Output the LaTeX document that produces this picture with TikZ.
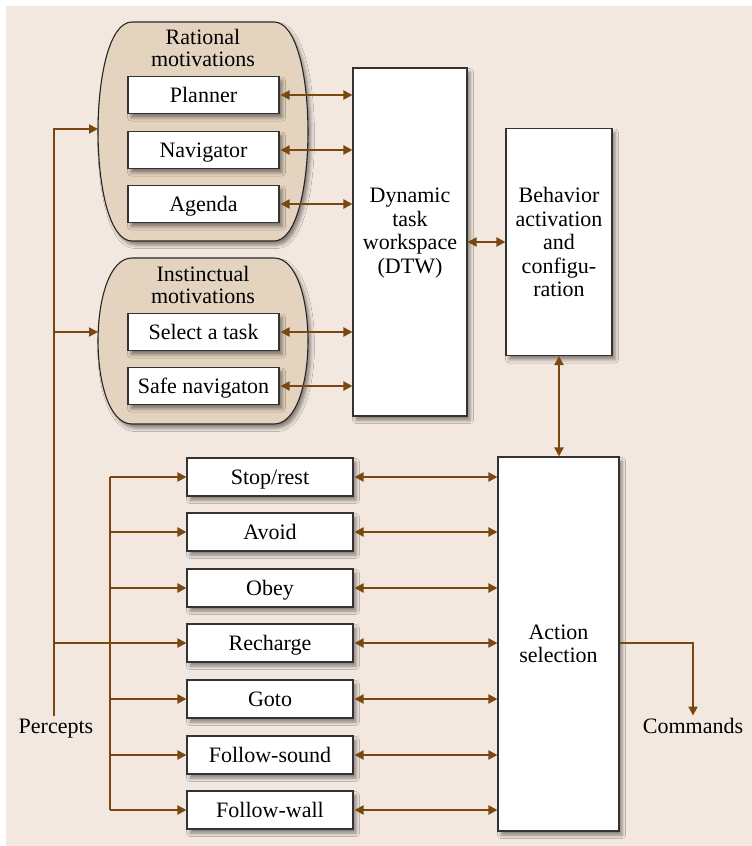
\documentclass[tikz,border=0pt]{standalone}
\usepackage{fontspec}
\setmainfont{Liberation Serif}
\usetikzlibrary{arrows.meta,shadows,shadows.blur}

\definecolor{bgcol}{HTML}{F3E8DF}
\definecolor{blobcol}{HTML}{E4D3BF}
\definecolor{arrcol}{HTML}{7A4710}

\begin{document}
\begin{tikzpicture}[x=1pt,y=-1pt,
  font=\fontsize{22}{23.5}\selectfont,
  shad/.style={blur shadow={shadow xshift=3pt, shadow yshift=-4pt, shadow blur radius=3.5pt, shadow opacity=45}},
  box/.style={draw=black!80, line width=1.1pt, fill=white, inner sep=0pt, align=center, shad},
  mbox/.style={box, minimum width=151pt, minimum height=37pt, text height=16pt, text depth=2pt},
  bbox/.style={box, minimum width=166pt, minimum height=38pt, text height=16pt, text depth=2pt},
  blobsty/.style={draw=black!85, line width=1.1pt, fill=blobcol, shad},
  txt/.style={align=center, inner sep=2pt},
  ln/.style={draw=arrcol, line width=2pt},
  conn/.style={ln, -{Triangle[length=9pt,width=9pt]}},
  dbl/.style={ln, {Triangle[length=9pt,width=9pt]}-{Triangle[length=9pt,width=9pt]}}
]
\useasboundingbox (0,0) rectangle (752,846);
\fill[bgcol] (6,6) rectangle (752,846);

% rational motivations container
\path[blobsty] (132,22) -- (274,22)
  .. controls (319.3,22) and (319.3,241) .. (274,241) -- (132,241)
  .. controls (86.7,241) and (86.7,22) .. (132,22) -- cycle;
\node[txt] (rattitle) at (203,48) {Rational\\[-1.5pt]motivations};

% instinctual motivations container
\path[blobsty] (132,258) -- (274,258)
  .. controls (319.3,258) and (319.3,424) .. (274,424) -- (132,424)
  .. controls (86.7,424) and (86.7,258) .. (132,258) -- cycle;
\node[txt] (insttitle) at (203,285) {Instinctual\\[-1.5pt]motivations};

\node[mbox] (planner) at (203.5,95) {Planner};
\node[mbox] (navigator) at (203.5,150) {Navigator};
\node[mbox] (agenda) at (203.5,204) {Agenda};
\node[mbox] (select) at (203.5,332) {Select a task};
\node[mbox] (safe) at (203.5,386) {Safe navigaton};

\node[box, minimum width=114pt, minimum height=348pt] (dtw) at (410,242) {};
\node[txt] (dtwtext) at (410,233) {Dynamic\\task\\workspace\\(DTW)};
\node[box, minimum width=106pt, minimum height=227pt] (beh) at (559,242) {Behavior\\activation\\and\\configu-\\ration};
\node[box, minimum width=121pt, minimum height=374pt] (action) at (558.5,644) {Action\\selection};

\node[bbox] (stop) at (270,477) {Stop/rest};
\node[bbox] (avoid) at (270,532) {Avoid};
\node[bbox] (obey) at (270,588) {Obey};
\node[bbox] (recharge) at (270,643) {Recharge};
\node[bbox] (goto) at (270,699) {Goto};
\node[bbox] (fsound) at (270,755) {Follow-sound};
\node[bbox] (fwall) at (270,810) {Follow-wall};

\node[txt, anchor=base] (percepts) at (56,733) {Percepts};
\node[txt, anchor=base] (commands) at (693,733) {Commands};

% percepts distribution
\coordinate (ptop) at (54,129);
\coordinate (ratin) at (98,129);
\coordinate (instin) at (98,332);
\coordinate (branch) at (110,0);
\draw[conn] (percepts.north -| ptop) -- (ptop) -- (ratin);
\draw[conn] (instin -| ptop) -- (instin);
\draw[conn] (recharge.west -| ptop) -- (recharge.west);
\draw[ln] (stop.west -| branch) -- (fwall.west -| branch);
\foreach \b in {stop,avoid,obey,goto,fsound,fwall}{
  \draw[conn] (\b.west -| branch) -- (\b.west);
}

% motivations to DTW
\foreach \b in {planner,navigator,agenda,select,safe}{
  \draw[dbl] ([xshift=1pt]\b.east) -- (\b.east -| dtw.west);
}

% behaviors to action selection
\foreach \b in {stop,avoid,obey,recharge,goto,fsound,fwall}{
  \draw[dbl] ([xshift=1pt]\b.east) -- (\b.east -| action.west);
}

\draw[dbl] (dtw.east) -- (beh.west);
\draw[dbl] (beh.south) -- (beh.south |- action.north);

\coordinate (cmdturn) at (693,643);
\draw[conn] (action.east |- cmdturn) -- (cmdturn) -- (commands.north);
\end{tikzpicture}
\end{document}
